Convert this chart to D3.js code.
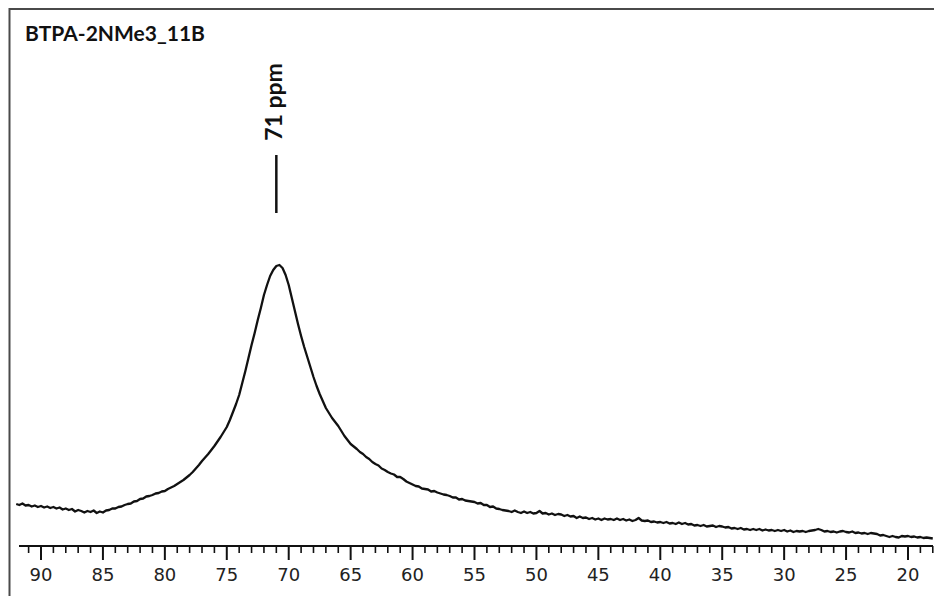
<!DOCTYPE html>
<html>
<head>
<meta charset="utf-8">
<script src="https://cdn.jsdelivr.net/npm/d3@7"></script>
<style>
  html, body { margin: 0; padding: 0; background: #fff; }
  svg { display: block; }
</style>
</head>
<body>
<svg id="chart" width="934" height="596"></svg>
<script>
// 11B NMR spectrum of BTPA-2NMe3: chemical shift (ppm) and signal intensity (arb. units)
const sampleTitle = "BTPA-2NMe3_11B";
const peakShift = 71;
const peakLabel = "71 ppm";
const majorTicks = [90, 85, 80, 75, 70, 65, 60, 55, 50, 45, 40, 35, 30, 25, 20];
const minorTicks = [91, 89, 88, 87, 86, 84, 83, 82, 81, 79, 78, 77, 76, 74, 73, 72, 71, 69, 68, 67, 66,
  64, 63, 62, 61, 59, 58, 57, 56, 54, 53, 52, 51, 49, 48, 47, 46, 44, 43, 42, 41, 39, 38, 37, 36,
  34, 33, 32, 31, 29, 28, 27, 26, 24, 23, 22, 21, 19, 18];

const shift = [
  92.00, 91.75, 91.50, 91.25, 91.00, 90.75, 90.50, 90.25, 90.00, 89.75, 89.50, 89.25, 89.00, 88.75, 88.50, 88.25,
  88.00, 87.75, 87.50, 87.25, 87.00, 86.75, 86.50, 86.25, 86.00, 85.75, 85.50, 85.25, 85.00, 84.75, 84.50, 84.25,
  84.00, 83.75, 83.50, 83.25, 83.00, 82.75, 82.50, 82.25, 82.00, 81.75, 81.50, 81.25, 81.00, 80.75, 80.50, 80.25,
  80.00, 79.75, 79.50, 79.25, 79.00, 78.75, 78.50, 78.25, 78.00, 77.75, 77.50, 77.25, 77.00, 76.75, 76.50, 76.25,
  76.00, 75.75, 75.50, 75.25, 75.00, 74.75, 74.50, 74.25, 74.00, 73.75, 73.50, 73.25, 73.00, 72.75, 72.50, 72.25,
  72.00, 71.75, 71.50, 71.25, 71.00, 70.75, 70.50, 70.25, 70.00, 69.75, 69.50, 69.25, 69.00, 68.75, 68.50, 68.25,
  68.00, 67.75, 67.50, 67.25, 67.00, 66.75, 66.50, 66.25, 66.00, 65.75, 65.50, 65.25, 65.00, 64.75, 64.50, 64.25,
  64.00, 63.75, 63.50, 63.25, 63.00, 62.75, 62.50, 62.25, 62.00, 61.75, 61.50, 61.25, 61.00, 60.75, 60.50, 60.25,
  60.00, 59.75, 59.50, 59.25, 59.00, 58.75, 58.50, 58.25, 58.00, 57.75, 57.50, 57.25, 57.00, 56.75, 56.50, 56.25,
  56.00, 55.75, 55.50, 55.25, 55.00, 54.75, 54.50, 54.25, 54.00, 53.75, 53.50, 53.25, 53.00, 52.75, 52.50, 52.25,
  52.00, 51.75, 51.50, 51.25, 51.00, 50.75, 50.50, 50.25, 50.00, 49.75, 49.50, 49.25, 49.00, 48.75, 48.50, 48.25,
  48.00, 47.75, 47.50, 47.25, 47.00, 46.75, 46.50, 46.25, 46.00, 45.75, 45.50, 45.25, 45.00, 44.75, 44.50, 44.25,
  44.00, 43.75, 43.50, 43.25, 43.00, 42.75, 42.50, 42.25, 42.00, 41.75, 41.50, 41.25, 41.00, 40.75, 40.50, 40.25,
  40.00, 39.75, 39.50, 39.25, 39.00, 38.75, 38.50, 38.25, 38.00, 37.75, 37.50, 37.25, 37.00, 36.75, 36.50, 36.25,
  36.00, 35.75, 35.50, 35.25, 35.00, 34.75, 34.50, 34.25, 34.00, 33.75, 33.50, 33.25, 33.00, 32.75, 32.50, 32.25,
  32.00, 31.75, 31.50, 31.25, 31.00, 30.75, 30.50, 30.25, 30.00, 29.75, 29.50, 29.25, 29.00, 28.75, 28.50, 28.25,
  28.00, 27.75, 27.50, 27.25, 27.00, 26.75, 26.50, 26.25, 26.00, 25.75, 25.50, 25.25, 25.00, 24.75, 24.50, 24.25,
  24.00, 23.75, 23.50, 23.25, 23.00, 22.75, 22.50, 22.25, 22.00, 21.75, 21.50, 21.25, 21.00, 20.75, 20.50, 20.25,
  20.00, 19.75, 19.50, 19.25, 19.00, 18.75, 18.50, 18.25, 18.00
];

const intensity = [
  42, 41, 42.5, 40.5, 41, 39.5, 40.5, 39, 40, 38.5, 39.5, 38, 39, 37.5, 38.5, 36.5,
  37.5, 36, 37, 34.5, 36, 35, 33.5, 35, 34, 35.5, 33, 34.5, 33.5, 35.5, 36, 37.5,
  37.5, 39, 39.5, 41, 42, 42.5, 44.5, 45, 47, 47.5, 49.5, 50, 51, 52.5, 53, 54.5,
  55, 57, 58.5, 60, 62, 64, 66, 68.5, 71, 74, 77.5, 81, 85, 88.5, 92, 96,
  100, 104.5, 109, 114, 119, 126, 134, 142, 151, 163, 175, 188, 201, 213, 226, 238,
  251, 261, 270, 276, 280, 281, 278, 271, 261, 248, 235, 222, 210, 199, 189, 179,
  169, 160, 152, 145, 138, 133, 128, 124, 120, 115, 110, 106, 102, 99.5, 97, 94,
  92, 89, 87, 84, 82, 80.5, 77.5, 76, 74, 72.5, 71.5, 69, 69, 67, 64.5, 63,
  61.5, 60, 59.5, 57.5, 57, 56.5, 54.5, 55, 53.5, 52.5, 51.5, 51, 50, 48.5, 48.5, 46.5,
  47, 45.5, 45, 44.5, 44, 42.5, 43, 41, 41, 39, 39.5, 37.5, 37, 36, 35.5, 35,
  34, 35.5, 34, 33, 34.5, 33, 34, 32.5, 33, 35, 32.5, 33, 31.5, 32.5, 31, 32,
  31.5, 30, 31, 29.5, 30, 28, 29.5, 28, 28.5, 27, 28, 26.5, 27.5, 26, 27.5, 26.5,
  27, 26, 27.5, 26, 27, 25.5, 26.5, 25, 26, 28, 25.5, 25, 25.5, 24, 24.5, 23.5,
  24, 23, 24, 22.5, 23, 22, 23.5, 22, 23, 21.5, 22, 20.5, 21, 20, 21, 19.5,
  20, 20.5, 19, 20, 19.5, 18.5, 19, 17.5, 18, 17, 18, 16.5, 17, 16, 17, 16,
  17, 15.5, 16.5, 15.5, 16, 15, 16, 15, 16, 14.5, 15.5, 14, 15, 14.5, 15, 14,
  15, 15.5, 16, 17, 16, 14.5, 15, 14, 14.5, 13.5, 14.5, 15, 14, 13.5, 14.5, 13,
  13.5, 12.5, 13, 12, 13, 12.5, 12, 10.5, 11, 10, 9, 10, 9, 8.5, 10, 9.5,
  10, 9, 9.5, 8.5, 9, 8, 8.5, 8, 7.5
];

const svg = d3.select("#chart");

// Shift axis runs right-to-left, as usual for NMR
const x = d3.scaleLinear().domain([90, 20]).range([41, 908]);
const y = d3.scaleLinear().domain([0, 281]).range([546, 265]);
const axisY = 546;

// Frame (top and left edges)
svg.append("path")
  .attr("d", "M9.5,596 V9 H934")
  .attr("fill", "none")
  .attr("stroke", "#4a4a4a")
  .attr("stroke-width", 2);

// Title
svg.append("text")
  .attr("x", 25)
  .attr("y", 41)
  .attr("font-family", "Lato, 'Open Sans', sans-serif")
  .attr("font-weight", 700)
  .attr("font-size", 21)
  .attr("fill", "#111")
  .text(sampleTitle);

// Spectrum trace
const points = shift.map((s, i) => [s, intensity[i]]);
svg.append("path")
  .datum(points)
  .attr("fill", "none")
  .attr("stroke", "#111")
  .attr("stroke-width", 2.3)
  .attr("stroke-linejoin", "round")
  .attr("d", d3.line().x(d => x(d[0])).y(d => y(d[1])));

// Peak marker and label
svg.append("line")
  .attr("x1", x(peakShift)).attr("x2", x(peakShift))
  .attr("y1", 155).attr("y2", 213)
  .attr("stroke", "#111")
  .attr("stroke-width", 2.5);

svg.append("text")
  .attr("transform", `translate(${x(peakShift) + 6},102) rotate(-90)`)
  .attr("text-anchor", "middle")
  .attr("font-family", "Lato, 'Open Sans', sans-serif")
  .attr("font-weight", 700)
  .attr("font-size", 23)
  .attr("fill", "#111")
  .text(peakLabel);

// Chemical shift axis
const axisG = svg.append("g");
axisG.append("line")
  .attr("x1", 19).attr("x2", 933)
  .attr("y1", axisY).attr("y2", axisY)
  .attr("stroke", "#111")
  .attr("stroke-width", 2);

axisG.selectAll("line.minor")
  .data(minorTicks)
  .join("line")
  .attr("class", "minor")
  .attr("x1", d => x(d)).attr("x2", d => x(d))
  .attr("y1", axisY).attr("y2", axisY + 7)
  .attr("stroke", "#111")
  .attr("stroke-width", 1.6);

axisG.selectAll("line.major")
  .data(majorTicks)
  .join("line")
  .attr("class", "major")
  .attr("x1", d => x(d)).attr("x2", d => x(d))
  .attr("y1", axisY).attr("y2", axisY + 14)
  .attr("stroke", "#111")
  .attr("stroke-width", 2);

axisG.selectAll("text.tick")
  .data(majorTicks)
  .join("text")
  .attr("class", "tick")
  .attr("x", d => x(d))
  .attr("y", 581)
  .attr("text-anchor", "middle")
  .attr("font-family", "'DejaVu Sans', sans-serif")
  .attr("font-size", 18)
  .attr("fill", "#222")
  .text(d => d);
</script>
</body>
</html>
